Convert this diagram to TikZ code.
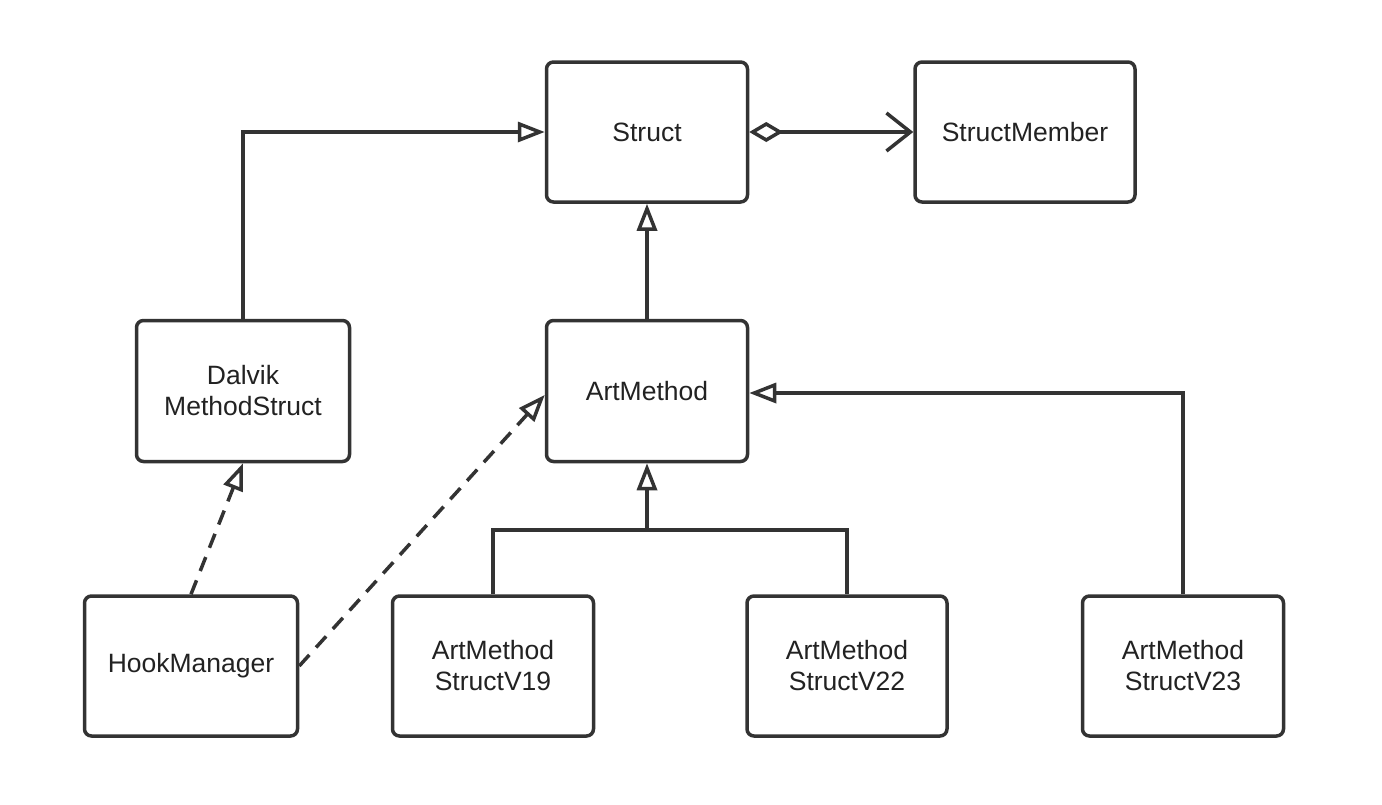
\documentclass[tikz,border=0pt]{standalone}
\usepackage{fontspec}
\setmainfont{Liberation Sans}
\usetikzlibrary{arrows.meta}
\definecolor{ln}{HTML}{333333}
\definecolor{tx}{HTML}{222222}
\begin{document}
\begin{tikzpicture}[x=1pt,y=-1pt,
  box/.style={draw=ln, line width=3.5pt, rounded corners=7pt, fill=white, align=center,
    text=tx, font=\fontsize{26.5}{31}\selectfont, inner sep=0pt},
  conn/.style={draw=ln, line width=3.5pt},
  gen/.style={conn, -{Triangle[open, length=27pt, width=20pt, line width=3.5pt]}},
  dashline/.style={dash pattern=on 15pt off 10pt}
]
\useasboundingbox (0,0) rectangle (1382,804);
\node[box, minimum width=201pt, minimum height=140pt] (struct) at (647,132) {Struct};
\node[box, minimum width=220pt, minimum height=140pt] (member) at (1025,132) {StructMember};
\node[box, minimum width=213pt, minimum height=141pt] (dalvik) at (243,391) {Dalvik\\MethodStruct};
\node[box, minimum width=201pt, minimum height=141pt] (art) at (647,391) {ArtMethod};
\node[box, minimum width=213pt, minimum height=140pt] (hook) at (191,666) {HookManager};
\node[box, minimum width=201pt, minimum height=140pt] (v19) at (493,666) {ArtMethod\\StructV19};
\node[box, minimum width=200pt, minimum height=140pt] (v22) at (847,666) {ArtMethod\\StructV22};
\node[box, minimum width=201pt, minimum height=140pt] (v23) at (1183,666) {ArtMethod\\StructV23};
\coordinate (join) at (647,530);
\draw[gen] (dalvik.north) |- (struct.west);
\draw[conn, {Diamond[open, length=34pt, width=20pt, line width=3.5pt]}-{Straight Barb[length=24pt, width=38pt, line width=3.5pt]}] (struct.east) -- (member.west);
\draw[gen] (art.north) -- (struct.south);
\draw[conn] (v19.north) |- (join);
\draw[conn] (v22.north) |- (join);
\draw[gen] (join) -- (art.south);
\draw[gen] (v23.north) |- ([yshift=-2pt]art.east);
\draw[gen, dashline] (hook.north) -- (dalvik.south);
\draw[gen, dashline] (hook.east) -- ([yshift=-4pt]art.west);
\end{tikzpicture}
\end{document}
